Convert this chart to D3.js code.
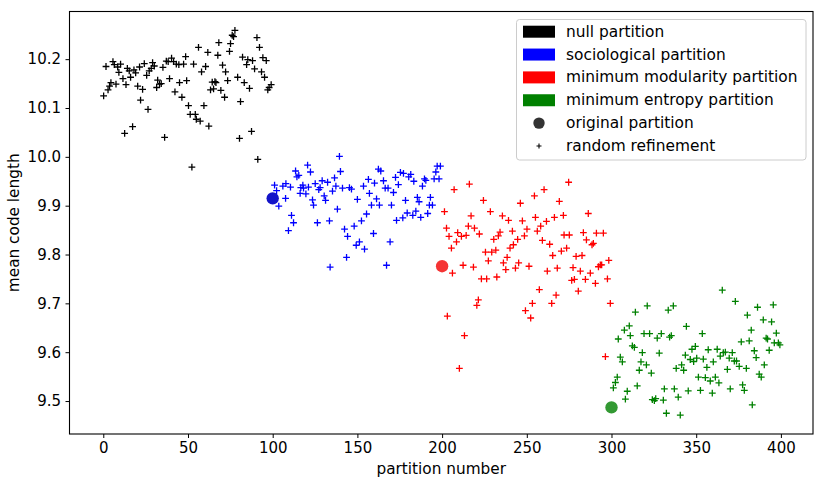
<!DOCTYPE html>
<html>
<head>
<meta charset="utf-8">
<script src="https://cdn.jsdelivr.net/npm/d3@7"></script>
<style>
  html, body { margin: 0; padding: 0; background: #fff; }
  svg { display: block; font-family: "DejaVu Sans", sans-serif; }
</style>
</head>
<body>
<svg id="chart" width="824" height="484"></svg>
<script>
// ---------------- data ----------------
const seriesNames = ["null partition", "sociological partition", "minimum modularity partition", "minimum entropy partition"];
const seriesColors = ["#000000", "#0000ff", "#ff0000", "#008000"];

const nullX = [0.2,1.6,2.8,3.7,4.5,5.7,6.5,7.5,8.5,9.2,10.2,11.6,12.6,13.4,14.2,15.3,16.1,17.3,18.1,19.1,20.3,21.4,22.0,23.2,24.2,25.6,26.4,27.1,28.3,29.1,30.1,31.5,32.1,33.2,34.2,35.2,36.2,37.2,38.3,39.1,40.3,41.5,42.3,43.1,44.6,45.0,46.4,47.4,48.6,49.2,50.3,51.3,52.3,53.3,54.3,54.9,56.2,57.2,58.0,59.4,60.4,61.7,62.3,63.3,64.3,65.1,65.9,66.5,67.6,68.2,69.4,70.4,71.6,72.2,73.4,74.5,75.1,76.1,76.9,77.7,79.3,80.4,81.0,82.2,83.2,84.6,85.3,86.3,87.5,88.1,89.3,90.7,91.2,92.2,93.4,94.2,95.2,96.2,97.1,97.9,99.1];
const nullY = [10.125,10.185,10.137,10.145,10.152,10.195,10.189,10.149,10.184,10.173,10.190,10.160,10.048,10.148,10.181,10.176,10.163,10.062,10.178,10.172,10.145,10.184,10.116,10.138,10.191,10.167,10.097,10.176,10.181,10.193,10.186,10.142,10.157,10.149,10.150,10.183,10.040,10.196,10.195,10.160,10.202,10.195,10.133,10.190,10.189,10.152,10.122,10.190,10.205,10.156,10.105,10.087,9.979,10.190,10.087,10.077,10.224,10.073,10.174,10.105,10.185,10.214,10.063,10.137,10.153,10.139,10.154,10.152,10.208,10.234,10.136,10.188,10.122,10.174,10.156,10.216,10.232,10.249,10.246,10.259,10.163,10.038,10.113,10.204,10.152,10.189,10.199,10.140,10.052,10.197,10.180,10.244,9.995,10.224,10.174,10.203,10.163,10.197,10.137,10.142,10.148];

const sociologicalX = [101.1,102.3,103.6,106.0,107.6,107.8,109.3,110.5,111.1,112.3,113.5,114.3,115.4,116.2,116.6,117.8,118.2,119.6,120.6,121.1,122.3,123.5,124.1,125.1,126.4,127.2,128.0,129.2,130.4,131.2,132.4,133.5,133.9,135.3,136.5,137.3,138.2,139.4,140.0,141.2,142.4,143.6,144.2,145.3,146.5,148.1,149.3,150.0,151.2,152.4,153.6,154.2,155.4,156.5,157.1,158.3,159.5,160.1,161.3,162.4,163.0,163.8,165.4,166.4,167.2,168.1,169.3,170.1,171.3,172.5,173.1,174.2,175.4,176.8,177.2,178.4,179.4,180.3,181.5,182.7,183.3,184.5,185.4,186.4,187.4,188.4,189.6,190.4,191.5,192.5,193.1,194.3,195.3,196.3,197.1,198.2,199.0];
const sociologicalY = [9.942,9.931,9.899,9.940,9.915,9.945,9.849,9.938,9.880,9.865,9.971,9.959,9.962,9.925,9.937,9.942,9.936,9.924,9.983,9.938,9.969,9.912,9.901,9.945,9.865,9.933,9.937,9.951,9.920,9.911,9.948,9.869,9.774,9.930,9.957,9.940,9.893,10.001,9.970,9.936,9.852,9.794,9.837,9.937,9.934,9.858,9.819,9.913,9.826,9.869,9.940,9.811,9.883,9.954,9.925,9.901,9.843,9.946,9.914,9.975,9.901,9.971,9.951,9.936,9.778,9.936,9.826,9.901,9.927,9.958,9.870,9.943,9.968,9.875,9.966,9.911,9.885,9.959,9.964,9.880,9.950,9.889,9.917,9.908,9.876,9.940,9.955,9.952,9.884,9.901,9.917,9.901,9.955,9.969,9.981,9.955,9.981];

const modularityX = [201.4,202.6,203.1,204.1,205.5,206.1,207.1,208.5,209.2,210.2,211.4,212.4,213.2,214.2,215.5,216.1,217.1,218.5,219.1,220.5,221.4,222.0,223.2,224.4,225.6,226.3,227.3,228.5,229.3,230.5,231.7,232.3,233.2,234.2,235.6,236.2,237.6,238.4,239.2,240.1,241.5,242.1,243.3,244.6,245.2,246.2,247.4,248.6,249.2,250.1,251.3,252.3,253.3,254.5,255.1,256.2,257.4,258.2,259.2,260.2,261.6,262.1,263.5,264.7,265.3,266.3,267.3,268.0,269.2,270.4,271.6,272.0,273.5,274.7,275.1,276.5,277.3,278.1,279.1,280.4,281.6,282.6,283.4,284.6,285.2,286.3,287.5,288.5,289.3,290.5,291.1,292.3,293.4,294.2,295.2,296.4,297.6,298.4,299.3];
const modularityY = [9.888,9.854,9.674,9.837,9.813,9.762,9.933,9.826,9.845,9.567,9.837,9.778,9.634,9.839,9.858,9.944,9.879,9.774,9.854,9.696,9.707,9.842,9.750,9.911,9.805,9.750,9.787,9.888,9.805,9.831,9.809,9.754,9.838,9.846,9.879,9.783,9.769,9.794,9.870,9.813,9.848,9.820,9.772,9.831,9.783,9.905,9.869,9.838,9.685,9.852,9.776,9.670,9.700,9.920,9.876,9.848,9.728,9.858,9.829,9.933,9.868,9.766,9.821,9.700,9.798,9.876,9.717,9.772,9.909,9.807,9.880,9.840,9.813,9.948,9.840,9.747,9.773,9.749,9.796,9.725,9.766,9.798,9.845,9.749,9.830,9.884,9.762,9.820,9.823,9.741,9.844,9.775,9.779,9.779,9.844,9.591,9.750,9.788,9.700];

const entropyX = [301.1,302.3,303.4,304.0,305.2,306.4,307.6,308.2,309.3,310.5,311.1,312.3,313.5,314.1,315.2,316.4,317.4,318.2,319.2,320.6,321.1,322.5,323.5,324.1,325.3,326.1,327.0,328.2,329.4,330.6,331.2,332.4,333.5,334.3,335.3,336.5,337.1,338.2,339.4,340.6,341.4,342.6,343.6,344.2,345.3,346.5,347.5,348.5,349.5,350.3,351.3,352.5,353.6,354.2,355.4,356.3,357.1,358.3,359.5,360.1,361.3,362.4,363.4,364.2,365.4,366.0,367.2,368.4,369.5,370.1,371.3,372.5,373.1,373.8,375.4,376.6,377.4,378.4,379.6,380.2,381.3,382.5,383.1,384.3,385.4,386.2,387.2,388.4,389.6,390.2,391.3,392.1,393.1,394.5,395.5,396.1,397.3,398.5,399.4];
const entropyY = [9.527,9.538,9.549,9.627,9.590,9.580,9.645,9.504,9.520,9.654,9.634,9.613,9.610,9.682,9.531,9.563,9.580,9.599,9.638,9.574,9.695,9.638,9.557,9.503,9.501,9.505,9.629,9.598,9.638,9.502,9.525,9.475,9.686,9.631,9.634,9.695,9.525,9.567,9.508,9.471,9.574,9.563,9.594,9.653,9.521,9.585,9.606,9.581,9.612,9.588,9.549,9.522,9.638,9.586,9.548,9.569,9.605,9.541,9.516,9.580,9.549,9.606,9.537,9.592,9.727,9.599,9.600,9.565,9.588,9.525,9.599,9.582,9.704,9.582,9.571,9.621,9.533,9.522,9.567,9.676,9.623,9.645,9.492,9.603,9.589,9.692,9.555,9.549,9.666,9.574,9.629,9.627,9.604,9.662,9.697,9.619,9.639,9.619,9.615];

// original partitions (circles)
const originalX = [100, 200, 300];
const originalY = [9.915, 9.776, 9.487];
const originalColors = ["#1414c8", "#f53434", "#339933"];

const xTicks = [0, 50, 100, 150, 200, 250, 300, 350, 400];
const yTicks = [9.5, 9.6, 9.7, 9.8, 9.9, 10.0, 10.1, 10.2];
const xDomain = [-19.95, 418.95];
const yDomain = [9.4325, 10.2976];

// ---------------- layout ----------------
const plot = { left: 69.5, top: 11.5, right: 813, bottom: 434 };

const svg = d3.select("#chart");
const x = d3.scaleLinear().domain(xDomain).range([plot.left, plot.right]);
const y = d3.scaleLinear().domain(yDomain).range([plot.bottom, plot.top]);

const groups = [
  { xs: nullX, ys: nullY, color: seriesColors[0] },
  { xs: sociologicalX, ys: sociologicalY, color: seriesColors[1] },
  { xs: modularityX, ys: modularityY, color: seriesColors[2] },
  { xs: entropyX, ys: entropyY, color: seriesColors[3] }
];

svg.append("clipPath").attr("id", "clip").append("rect")
  .attr("x", plot.left).attr("y", plot.top)
  .attr("width", plot.right - plot.left).attr("height", plot.bottom - plot.top);

const marks = svg.append("g").attr("clip-path", "url(#clip)");
const plusSize = 3.4;
const plusPath = `M${-plusSize},0H${plusSize}M0,${-plusSize}V${plusSize}`;

groups.forEach(g => {
  const pts = d3.zip(g.xs, g.ys);
  marks.append("g").selectAll("path").data(pts).join("path")
    .attr("transform", d => `translate(${x(d[0])},${y(d[1])})`)
    .attr("d", plusPath)
    .attr("stroke", g.color)
    .attr("stroke-width", 1.3)
    .attr("fill", "none");
});

marks.append("g").selectAll("circle").data(d3.zip(originalX, originalY, originalColors)).join("circle")
  .attr("cx", d => x(d[0]))
  .attr("cy", d => y(d[1]))
  .attr("r", 6.2)
  .attr("fill", d => d[2]);

// axes
const xAxis = d3.axisBottom(x).tickValues(xTicks).tickSize(4).tickPadding(4.5).tickFormat(d3.format("d"));
const yAxis = d3.axisLeft(y).tickValues(yTicks).tickSize(4).tickPadding(4.5).tickFormat(d3.format(".1f"));

const gx = svg.append("g").attr("transform", `translate(0,${plot.bottom})`).call(xAxis);
const gy = svg.append("g").attr("transform", `translate(${plot.left},0)`).call(yAxis);
[gx, gy].forEach(g => {
  g.select(".domain").remove();
  g.selectAll("line").attr("stroke", "#000").attr("stroke-width", 1);
  g.selectAll("text").attr("fill", "#000").style("font-size", "15px").style("font-family", "DejaVu Sans, sans-serif");
});

// frame
svg.append("rect")
  .attr("x", plot.left).attr("y", plot.top)
  .attr("width", plot.right - plot.left).attr("height", plot.bottom - plot.top)
  .attr("fill", "none").attr("stroke", "#000").attr("stroke-width", 1.1);

// axis labels
svg.append("text")
  .attr("x", (plot.left + plot.right) / 2).attr("y", 474)
  .attr("text-anchor", "middle")
  .style("font-size", "15.3px")
  .text("partition number");

svg.append("text")
  .attr("transform", `translate(19,${(plot.top + plot.bottom) / 2}) rotate(-90)`)
  .attr("text-anchor", "middle")
  .style("font-size", "15.3px")
  .text("mean code length");

// legend
const leg = svg.append("g");
leg.append("rect")
  .attr("x", 516.5).attr("y", 19.5).attr("width", 289.5).attr("height", 140.5)
  .attr("rx", 3).attr("ry", 3)
  .attr("fill", "rgba(255,255,255,0.85)")
  .attr("stroke", "#cccccc").attr("stroke-width", 1);

const rowY0 = 31.7, rowStep = 22.85;
const legendItems = seriesNames.map((n, i) => ({ label: n, type: "patch", color: seriesColors[i] }))
  .concat([{ label: "original partition", type: "circle", color: "#333333" },
           { label: "random refinement", type: "plus", color: "#000000" }]);

legendItems.forEach((it, i) => {
  const cy = rowY0 + i * rowStep;
  if (it.type === "patch") {
    leg.append("rect").attr("x", 523).attr("y", cy - 6).attr("width", 32).attr("height", 12).attr("fill", it.color);
  } else if (it.type === "circle") {
    leg.append("circle").attr("cx", 539).attr("cy", cy).attr("r", 5.7).attr("fill", it.color);
  } else {
    leg.append("path").attr("transform", `translate(539,${cy})`)
      .attr("d", "M-2.5,0H2.5M0,-2.5V2.5").attr("stroke", it.color).attr("stroke-width", 1.1);
  }
  leg.append("text")
    .attr("x", 566).attr("y", cy)
    .attr("dominant-baseline", "central")
    .style("font-size", "15.4px")
    .attr("fill", "#000")
    .text(it.label);
});
</script>
</body>
</html>
